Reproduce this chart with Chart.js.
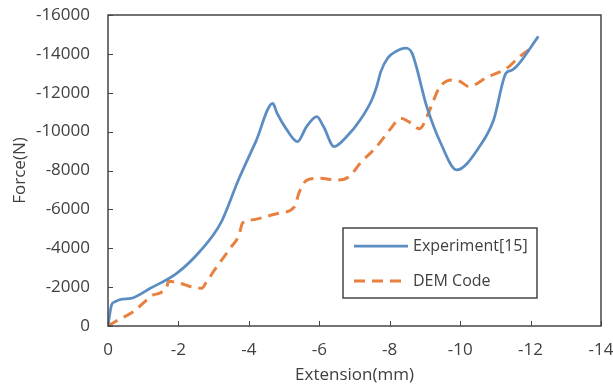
<!DOCTYPE html>
<html>
<head>
<meta charset="utf-8">
<script src="https://cdn.jsdelivr.net/npm/chart.js@4.4.1/dist/chart.umd.min.js"></script>
<style>
  html, body { margin: 0; padding: 0; background: #fff; }
  canvas { display: block; }
</style>
</head>
<body>
<canvas id="chart" width="613" height="387"></canvas>
<script>
// Experiment curve (extension in mm, force in N)
var expExt = [0, -0.1, -0.2, -0.4, -0.65, -1.2, -1.95, -2.6, -3.2, -3.7, -4.2, -4.68, -4.8, -5.08, -5.38,
  -5.64, -5.93, -6.12, -6.42, -6.78, -7.16, -7.49, -7.63, -7.75, -7.95, -8.2, -8.44, -8.63, -9.05, -9.45,
  -9.9, -10.55, -10.95, -11.3, -11.45, -11.6, -12.22];
var expForce = [0, -1080, -1250, -1380, -1420, -1940, -2710, -3820, -5290, -7500, -9500, -11450, -10950, -10090, -9490,
  -10260, -10770, -10260, -9230, -9750, -10600, -11630, -12320, -13100, -13800, -14150, -14300, -14050, -11300, -9400,
  -8030, -9230, -10600, -13000, -13150, -13350, -14900];

// DEM simulation curve
var demExt = [0, -0.2, -0.72, -1.29, -1.45, -1.67, -1.72, -2.05, -2.35, -2.66, -2.8, -3.09, -3.47, -3.72, -3.82,
  -4.1, -4.85, -5.3, -5.42, -5.65, -6.02, -6.5, -6.85, -7.16, -7.63, -8.0, -8.32, -8.55, -8.85, -9.1,
  -9.25, -9.4, -9.75, -10.0, -10.25, -10.76, -11.33, -11.7, -11.95];
var demForce = [0, -220, -740, -1600, -1680, -2020, -2300, -2200, -2020, -1940, -2280, -3050, -4000, -4680, -5290,
  -5460, -5800, -6140, -6830, -7510, -7600, -7510, -7690, -8370, -9230, -10090, -10690, -10500, -10150, -10950,
  -11630, -12230, -12660, -12580, -12320, -12800, -13270, -13870, -14200];

var seriesNames = ["Experiment[15]", "DEM Code"];

var textColor = "#404040";
var frameColor = "#454545";

function toPoints(xs, ys) {
  var pts = [];
  for (var i = 0; i < xs.length; i++) {
    pts.push({ x: xs[i], y: ys[i] });
  }
  return pts;
}

// box around the plot, inward tick marks and the boxed legend
var framePlugin = {
  id: "frame",
  afterDraw: function (chart) {
    var ctx = chart.ctx;
    var area = chart.chartArea;
    var xs = chart.scales.x, ys = chart.scales.y;
    ctx.save();
    ctx.strokeStyle = frameColor;
    ctx.lineWidth = 1.5;
    ctx.strokeRect(area.left, area.top, area.right - area.left, area.bottom - area.top);

    ctx.lineWidth = 1;
    xs.ticks.forEach(function (t) {
      var px = Math.round(xs.getPixelForValue(t.value)) + 0.5;
      ctx.beginPath();
      ctx.moveTo(px, area.bottom);
      ctx.lineTo(px, area.bottom - 5);
      ctx.stroke();
    });
    ys.ticks.forEach(function (t) {
      var py = Math.round(ys.getPixelForValue(t.value)) + 0.5;
      ctx.beginPath();
      ctx.moveTo(area.left, py);
      ctx.lineTo(area.left + 5, py);
      ctx.stroke();
    });

    // legend
    var lx = area.left + 235, ly = area.top + 213, lw = 194, lh = 70;
    ctx.fillStyle = "#fff";
    ctx.fillRect(lx, ly, lw, lh);
    ctx.lineWidth = 1.5;
    ctx.strokeStyle = frameColor;
    ctx.strokeRect(lx, ly, lw, lh);
    chart.data.datasets.forEach(function (ds, i) {
      var cy = ly + 18 + i * 35;
      ctx.beginPath();
      ctx.setLineDash(ds.borderDash || []);
      ctx.strokeStyle = ds.borderColor;
      ctx.lineWidth = ds.borderWidth;
      ctx.moveTo(lx + 11, cy);
      ctx.lineTo(lx + 65, cy);
      ctx.stroke();
      ctx.setLineDash([]);
      ctx.fillStyle = textColor;
      ctx.font = "16px 'Open Sans'";
      ctx.textBaseline = "middle";
      ctx.textAlign = "left";
      ctx.fillText(ds.label, lx + 70, cy);
    });
    ctx.restore();
  }
};

var ctx = document.getElementById("chart").getContext("2d");
var chart = new Chart(ctx, {
  type: "line",
  data: {
    datasets: [
      {
        label: seriesNames[0],
        data: toPoints(expExt, expForce),
        borderColor: "#5b8dc3",
        borderWidth: 2.75,
        pointRadius: 0,
        cubicInterpolationMode: "monotone",
        fill: false
      },
      {
        label: seriesNames[1],
        data: toPoints(demExt, demForce),
        borderColor: "#e8803f",
        borderWidth: 3,
        borderDash: [11, 7],
        pointRadius: 0,
        cubicInterpolationMode: "monotone",
        fill: false
      }
    ]
  },
  options: {
    responsive: false,
    animation: false,
    layout: { padding: { left: 0, top: 15, right: 12, bottom: 0 } },
    plugins: {
      legend: { display: false },
      tooltip: { enabled: false }
    },
    scales: {
      x: {
        type: "linear",
        min: -14,
        max: 0,
        reverse: true,
        afterFit: function (scale) {
          scale.height = 61;
          scale.paddingLeft = 0;
          scale.paddingRight = 0;
        },
        grid: { display: false, drawTicks: false },
        border: { display: false },
        ticks: {
          stepSize: 2,
          padding: 14,
          color: textColor,
          font: { family: "'Open Sans'", size: 17 },
          maxRotation: 0,
          callback: function (v) { return String(v); }
        },
        title: {
          display: true,
          text: "Extension(mm)",
          color: textColor,
          font: { family: "'Open Sans'", size: 17 },
          padding: { top: 0, bottom: 2 }
        }
      },
      y: {
        min: -16000,
        max: 0,
        reverse: true,
        afterFit: function (scale) {
          scale.width = 108;
          scale.paddingTop = 0;
          scale.paddingBottom = 0;
        },
        grid: { display: false, drawTicks: false },
        border: { display: false },
        ticks: {
          stepSize: 2000,
          padding: 18,
          color: textColor,
          font: { family: "'Open Sans'", size: 17 },
          callback: function (v) { return String(v); }
        },
        title: {
          display: true,
          text: "Force(N)",
          color: textColor,
          font: { family: "'Open Sans'", size: 17 },
          padding: { top: 10, bottom: 0 }
        }
      }
    }
  },
  plugins: [framePlugin]
});
</script>
</body>
</html>
